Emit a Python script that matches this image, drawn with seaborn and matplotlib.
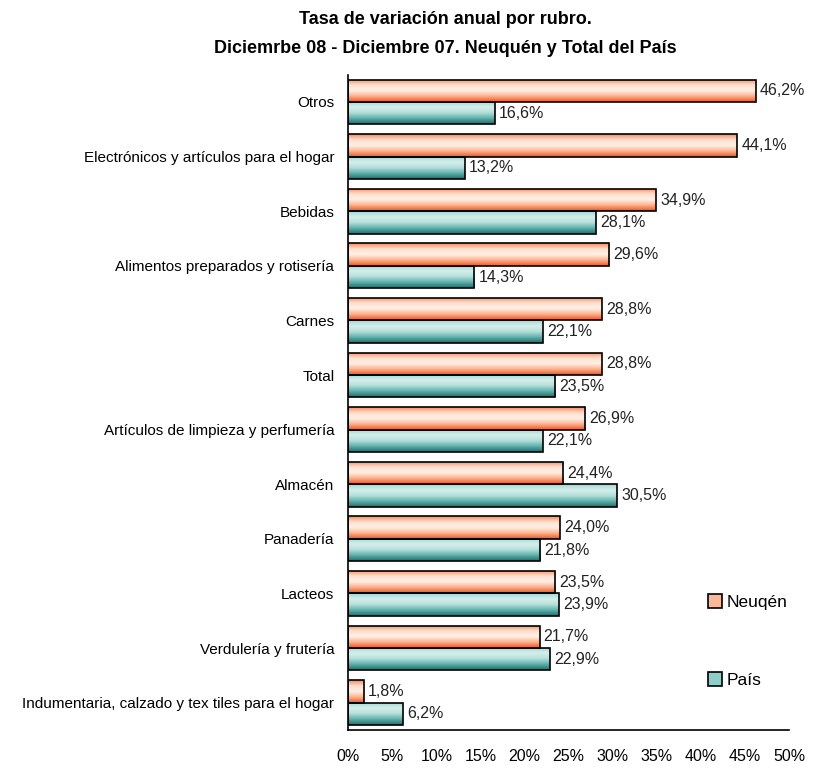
import matplotlib
matplotlib.use("Agg")
import numpy as np
import pandas as pd
import matplotlib.pyplot as plt
import seaborn as sns
from matplotlib.colors import LinearSegmentedColormap
from matplotlib.ticker import FixedLocator, PercentFormatter

# data
rubros = ['Otros', 'Electrónicos y artículos para el hogar', 'Bebidas',
          'Alimentos preparados y rotisería', 'Carnes', 'Total',
          'Artículos de limpieza y perfumería', 'Almacén', 'Panadería',
          'Lacteos', 'Verdulería y frutería',
          'Indumentaria, calzado y tex tiles para el hogar']
neuquen = [46.2, 44.1, 34.9, 29.6, 28.8, 28.8, 26.9, 24.4, 24.0, 23.5, 21.7, 1.8]
pais = [16.6, 13.2, 28.1, 14.3, 22.1, 23.5, 22.1, 30.5, 21.8, 23.9, 22.9, 6.2]
series = ['Neuqén', 'País']

df = pd.DataFrame({'rubro': rubros * 2,
                   'valor': neuquen + pais,
                   'serie': [series[0]] * len(rubros) + [series[1]] * len(rubros)})

sns.set_style('white')
plt.rcParams['font.family'] = ['Liberation Sans', 'DejaVu Sans']
plt.rcParams['text.color'] = 'black'
plt.rcParams['xtick.color'] = 'black'
plt.rcParams['ytick.color'] = 'black'

fig, ax = plt.subplots(figsize=(8.35, 7.7), dpi=100)
fig.subplots_adjust(left=0.417, right=0.945, top=0.903, bottom=0.052)

sns.barplot(data=df, y='rubro', x='valor', hue='serie', orient='h',
            palette=['#fbb89a', '#8fcfca'], width=0.82, edgecolor='black',
            linewidth=1.2, ax=ax, legend=True)

# gradient fills clipped to each bar (top -> bottom)
cmaps = {
    0: LinearSegmentedColormap.from_list('n', ['#f98a5c', '#ffe0cf', '#fff0e6', '#fcb08c', '#f0561e']),
    1: LinearSegmentedColormap.from_list('p', ['#9fd6d0', '#d6efec', '#b4e0db', '#5fb0aa', '#1d6f6d']),
}
grad = np.linspace(0, 1, 64).reshape(-1, 1)
n = len(rubros)
for k, cont in enumerate(ax.containers):
    for p in cont.patches:
        x0, y0 = p.get_x(), p.get_y()
        w, h = p.get_width(), p.get_height()
        im = ax.imshow(grad, cmap=cmaps[k], aspect='auto', origin='lower',
                       extent=[x0, x0 + w, y0, y0 + h], zorder=p.get_zorder() - 0.1,
                       interpolation='bicubic')
        im.set_clip_path(p)
        p.set_facecolor('none')
    labels = [f"{v:.1f}".replace('.', ',') + '%' for v in cont.datavalues]
    ax.bar_label(cont, labels=labels, padding=3, fontsize=11.5, color='#222222')

ax.set_xlim(0, 50)
ax.set_ylim(n - 0.5, -0.5)

ax.set_xlabel('')
ax.set_ylabel('')
ax.xaxis.set_major_locator(FixedLocator(np.arange(0, 51, 5)))
ax.xaxis.set_major_formatter(PercentFormatter(decimals=0))
ax.tick_params(axis='x', direction='out', length=5, width=1, labelsize=11.5, pad=9)
ax.tick_params(axis='y', which='major', length=0, labelsize=11, pad=10)
ax.yaxis.set_minor_locator(FixedLocator(np.arange(-0.5, n, 1)))
ax.tick_params(axis='y', which='minor', direction='out', length=5, width=1)

for s in ['top', 'right']:
    ax.spines[s].set_visible(False)
for s in ['left', 'bottom']:
    ax.spines[s].set_color('black')
    ax.spines[s].set_linewidth(1.2)

leg = ax.legend(loc='lower left', bbox_to_anchor=(0.78, 0.04), frameon=False,
                fontsize=12.5, handlelength=0.8, handleheight=0.8,
                handletextpad=0.3, labelspacing=3.6)
for hnd, c in zip(leg.legend_handles, ['#fbb89a', '#8fcfca']):
    hnd.set_facecolor(c)
    hnd.set_edgecolor('black')

fig.text(0.533, 0.986, 'Tasa de variación anual por rubro.\nDiciemrbe 08 - Diciembre 07. Neuquén y Total del País',
         ha='center', va='top', fontsize=13, fontweight='bold', linespacing=1.95)

fig.savefig('out.png', dpi=100)
